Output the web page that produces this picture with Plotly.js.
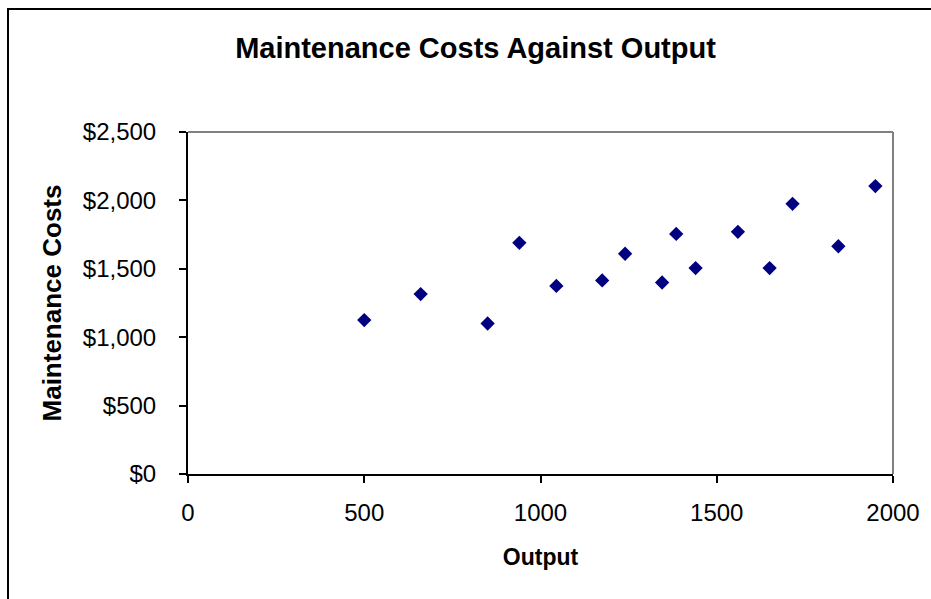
<!DOCTYPE html>
<html>
<head>
<meta charset="utf-8">
<script src="https://cdn.plot.ly/plotly-3.0.1.min.js"></script>
<style>
  html, body { margin: 0; padding: 0; background: #fff; overflow: hidden; }
  #wrap { position: relative; width: 931px; height: 599px; overflow: hidden; }
  #frame { position: absolute; left: 7px; top: 8px; width: 1000px; height: 1000px;
           border: 2px solid #000; box-sizing: border-box; pointer-events: none; }
  #chart { position: absolute; left: 0; top: 0; width: 931px; height: 599px; }
</style>
</head>
<body>
<div id="wrap">
  <div id="chart"></div>
  <div id="frame"></div>
</div>
<script>
const chartTitle = "Maintenance Costs Against Output";
const xTitle = "Output";
const yTitle = "Maintenance Costs";
const output = [500, 660, 850, 940, 1045, 1175, 1240, 1345, 1385, 1440, 1560, 1650, 1715, 1845, 1950];
const costs  = [1125, 1315, 1100, 1690, 1375, 1415, 1610, 1400, 1755, 1505, 1770, 1505, 1975, 1665, 2105];
const xTicks = [0, 500, 1000, 1500, 2000];
const yTicks = [0, 500, 1000, 1500, 2000, 2500];

const fontFam = "Liberation Sans, Arial, sans-serif";

const trace = {
  type: "scatter",
  mode: "markers",
  x: output,
  y: costs,
  marker: { symbol: "diamond", size: 11, color: "#000080", line: { width: 0 } },
  hoverinfo: "x+y",
  showlegend: false
};

const layout = {
  width: 931,
  height: 599,
  margin: { l: 188, r: 38, t: 132, b: 125 },
  paper_bgcolor: "#ffffff",
  plot_bgcolor: "#ffffff",
  font: { family: fontFam, color: "#000000" },
  title: {
    text: "<b>" + chartTitle + "</b>",
    font: { family: fontFam, size: 29, color: "#000" },
    xref: "container", x: 475.5 / 931, xanchor: "center",
    yref: "container", y: 1 - 48 / 599, yanchor: "middle"
  },
  xaxis: {
    range: [0, 2000],
    tickvals: xTicks,
    ticktext: xTicks.map(String),
    showgrid: false,
    zeroline: false,
    showline: true, linecolor: "#000", linewidth: 2,
    ticks: "outside", ticklen: 7, tickwidth: 2, tickcolor: "#000",
    tickfont: { family: fontFam, size: 24, color: "#000" },
    ticklabelstandoff: 9,
    title: { text: "<b>" + xTitle + "</b>", font: { family: fontFam, size: 23, color: "#000" }, standoff: 24 },
    automargin: false,
    fixedrange: true
  },
  yaxis: {
    range: [0, 2500],
    tickvals: yTicks,
    ticktext: yTicks.map(v => "$" + v.toLocaleString("en-US")),
    showgrid: false,
    zeroline: false,
    showline: true, linecolor: "#000", linewidth: 2,
    ticks: "outside", ticklen: 7, tickwidth: 2, tickcolor: "#000",
    tickfont: { family: fontFam, size: 24, color: "#000" },
    ticklabelstandoff: 18,
    title: { text: "<b>" + yTitle + "</b>", font: { family: fontFam, size: 26, color: "#000" }, standoff: 14 },
    automargin: false,
    fixedrange: true
  },
  shapes: [
    { type: "line", xref: "paper", yref: "paper", x0: 0, x1: 1, y0: 1, y1: 1, line: { color: "#808080", width: 2 } },
    { type: "line", xref: "paper", yref: "paper", x0: 1, x1: 1, y0: 0, y1: 1, line: { color: "#808080", width: 2 } }
  ]
};

Plotly.newPlot("chart", [trace], layout, { displayModeBar: false, staticPlot: false, responsive: false });
</script>
</body>
</html>
